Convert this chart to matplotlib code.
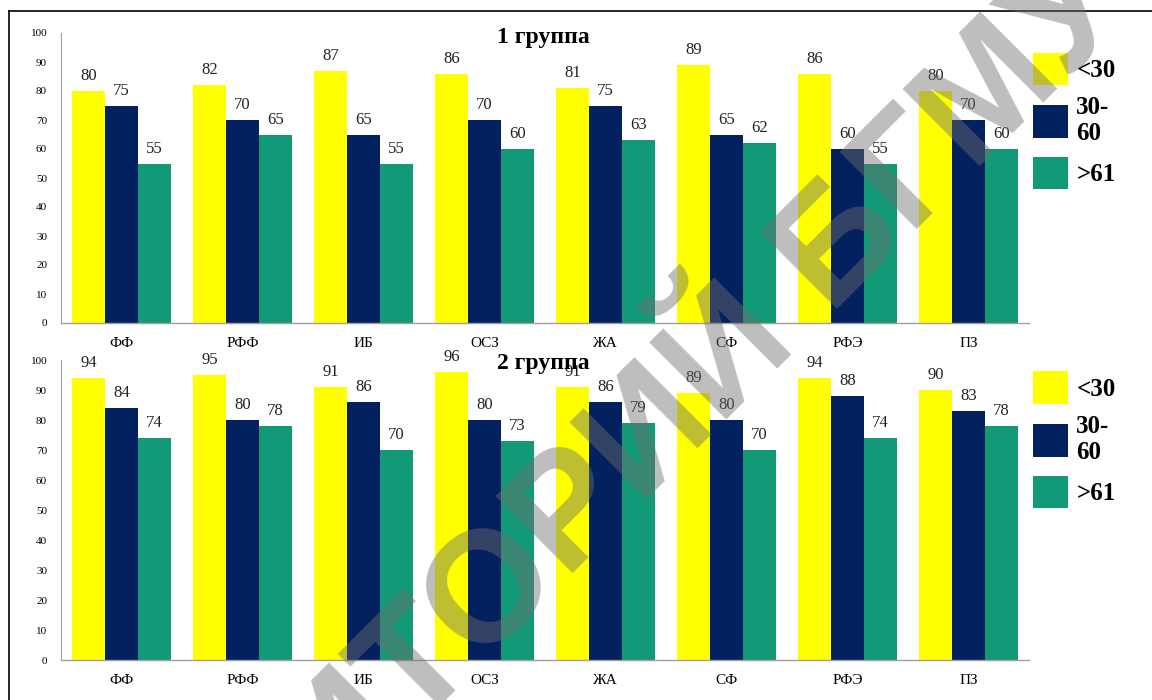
import matplotlib.pyplot as plt
import numpy as np
from matplotlib.lines import Line2D

plt.rcParams["font.family"] = ["Liberation Serif", "DejaVu Serif"]

categories = ["ФФ", "РФФ", "ИБ", "ОСЗ", "ЖА", "СФ", "РФЭ", "ПЗ"]
series_names = ["<30", "30-\n60", ">61"]
colors = ["#FFFF00", "#03215F", "#129A78"]

group1_under30 = [80, 82, 87, 86, 81, 89, 86, 80]
group1_30_60 = [75, 70, 65, 70, 75, 65, 60, 70]
group1_over61 = [55, 65, 55, 60, 63, 62, 55, 60]

group2_under30 = [94, 95, 91, 96, 91, 89, 94, 90]
group2_30_60 = [84, 80, 86, 80, 86, 80, 88, 83]
group2_over61 = [74, 78, 70, 73, 79, 70, 74, 78]

panels = [
    ("1 группа", [group1_under30, group1_30_60, group1_over61]),
    ("2 группа", [group2_under30, group2_30_60, group2_over61]),
]

fig = plt.figure(figsize=(11.52, 7.0), dpi=100)
W, H = 1152, 700

# axes boxes in pixels: (left, y_of_zero, right, y_of_100)
boxes = [(61, 323, 1029, 33), (61, 660, 1029, 360)]
legend_tops = [35, 354]
title_y = [37, 363]

x = np.arange(len(categories))
width = 0.27

for (title, series), (l, y0, r, y100), ltop, ty in zip(panels, boxes, legend_tops, title_y):
    ax = fig.add_axes([l / W, 1 - y0 / H, (r - l) / W, (y0 - y100) / H])
    bars = []
    for i, (vals, name, c) in enumerate(zip(series, series_names, colors)):
        b = ax.bar(x + (i - 1) * width, vals, width, color=c, label=name, zorder=2)
        ax.bar_label(b, labels=[str(v) for v in vals], padding=5, fontsize=12, color="#222222")
        bars.append(b)
    ax.set_xlim(-0.5, len(categories) - 0.5)
    ax.set_ylim(0, 100)
    ax.set_yticks(range(0, 101, 10))
    ax.set_xticks(x)
    ax.set_xticklabels(categories, fontsize=11)
    ax.tick_params(axis="y", length=0, labelsize=8, pad=10)
    ax.tick_params(axis="x", length=0, pad=10)
    for s in ["top", "right"]:
        ax.spines[s].set_visible(False)
    ax.spines["left"].set_color("#a0a0a0")
    ax.spines["bottom"].set_color("#a0a0a0")
    ax.spines["left"].set_linewidth(0.8)
    ax.spines["bottom"].set_linewidth(1.0)
    fig.text(543 / W, 1 - ty / H, title, ha="center", va="center",
             fontsize=17, fontweight="bold")
    fig.legend(handles=bars, labels=series_names, loc="upper left",
               bbox_to_anchor=(1015 / W, 1 - ltop / H), frameon=False,
               prop={"family": "Liberation Serif", "weight": "bold", "size": 18},
               handlelength=1.4, handleheight=1.6, handletextpad=0.35,
               labelspacing=0.45, borderpad=0.2)

# page frame
fig.add_artist(Line2D([9 / W, 1.0], [1 - 11 / H, 1 - 11 / H], color="black", lw=1.2))
fig.add_artist(Line2D([9 / W, 9 / W], [0, 1 - 11 / H], color="black", lw=1.2))

# watermark
fig.text(514 / W, 1 - 575 / H, "РЕПОЗИТОРИЙ БГМУ", rotation=45, rotation_mode="anchor",
         ha="center", va="center", family="Liberation Sans", fontweight="bold",
         fontsize=113, color="#6e6e6e", alpha=0.45, zorder=10)

fig.savefig("out.png", dpi=100)
